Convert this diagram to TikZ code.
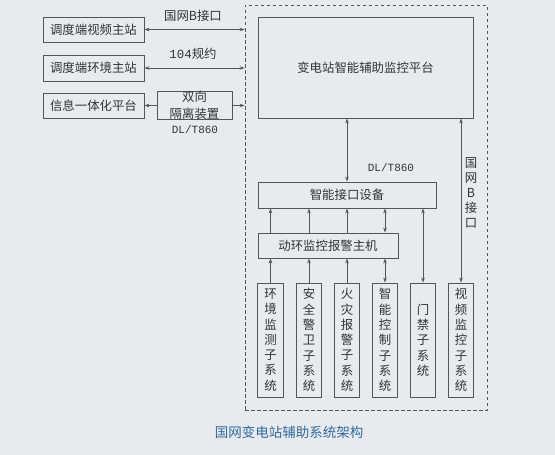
\documentclass[tikz,border=0pt]{standalone}
\usepackage{fontspec}
\setmainfont{Noto Sans CJK SC}
\newfontfamily\latf{Liberation Mono}
\usetikzlibrary{arrows.meta}
\definecolor{bg}{HTML}{E8EBEE}
\definecolor{ln}{HTML}{555555}
\definecolor{tx}{HTML}{333333}
\definecolor{capc}{HTML}{2F6A9C}
\begin{document}
\begin{tikzpicture}[x=1pt,y=-1pt,
  box/.style={draw=ln,line width=0.9pt,fill=bg,text=tx,inner sep=0pt,
     font=\fontsize{12.4}{15.3}\selectfont,align=center},
  vbox/.style={box,minimum width=25.5pt,minimum height=114pt},
  lbl/.style={text=tx,inner sep=0pt,font=\fontsize{12.4}{15}\selectfont,align=center},
  conn/.style={draw=ln,line width=0.8pt},
  tip/.style={-{Stealth[length=5pt,width=3.6pt]}},
  dtip/.style={{Stealth[length=5pt,width=3.6pt]}-{Stealth[length=5pt,width=3.6pt]}}]
\fill[bg] (0,0) rectangle (555,455);
\useasboundingbox (0,0) rectangle (555,455);
% frame
\node[draw=ln,line width=0.8pt,dash pattern=on 3.5pt off 2.5pt,minimum width=242pt,minimum height=405pt,inner sep=0pt] (frame) at (366,207.5) {};
% left boxes
\node[box,minimum width=101pt,minimum height=25pt] (v1) at (93.5,29.5) {调度端视频主站};
\node[box,minimum width=101pt,minimum height=26pt] (v2) at (93.5,68) {调度端环境主站};
\node[box,minimum width=101pt,minimum height=25pt] (v3) at (93.5,105.5) {信息一体化平台};
\node[box,minimum width=75pt,minimum height=25pt,font=\fontsize{12.4}{17}\selectfont] (iso) at (194.5,105.5) {双向\\隔离装置};
% main
\node[box,minimum width=215pt,minimum height=101pt] (main) at (365.5,67.5) {变电站智能辅助监控平台};
\node[box,minimum width=178pt,minimum height=26pt] (intf) at (347,195) {智能接口设备};
\node[box,minimum width=140pt,minimum height=25pt] (dh) at (328,245.5) {动环监控报警主机};
% bottom
\node[vbox] (s1) at (270.5,340) {环\\境\\监\\测\\子\\系\\统};
\node[vbox] (s2) at (309,340) {安\\全\\警\\卫\\子\\系\\统};
\node[vbox] (s3) at (347,340) {火\\灾\\报\\警\\子\\系\\统};
\node[vbox] (s4) at (385,340) {智\\能\\控\\制\\子\\系\\统};
\node[vbox] (s5) at (423,340) {门\\禁\\子\\系\\统};
\node[vbox] (s6) at (461,340) {视\\频\\监\\控\\子\\系\\统};
% labels
\node[lbl] (l1) at (193,16) {国网B接口};
\node[lbl] (l2) at (193,54) {{\latf 104}规约};
\node[lbl,font=\latf\fontsize{11}{13}\selectfont] (l3) at (195,130) {DL/T860};
\node[lbl,font=\latf\fontsize{11}{13}\selectfont] (l4) at (391,168) {DL/T860};
\node[lbl,font=\fontsize{12.4}{15}\selectfont] (l5) at (471,193) {国\\网\\B\\接\\口};
% connectors left
\draw[conn,dtip] (v1.east) -- (v1.east -| frame.west);
\draw[conn,dtip] (v2.east) -- (v2.east -| frame.west);
\draw[conn,tip] (iso.west) -- (v3.east);
\draw[conn,tip] (iso.east) -- (iso.east -| frame.west);
% vertical
\draw[conn,dtip] (intf.north) -- (intf.north |- main.south);
\draw[conn,dtip] (s6.north) -- (s6.north |- main.south);
\draw[conn,dtip] (s5.north) -- (s5.north |- intf.south);
\foreach \s in {s1,s2,s3}{
  \draw[conn,tip] (\s.north) -- (\s.north |- dh.south);
  \draw[conn,tip] (\s.north |- dh.north) -- (\s.north |- intf.south);
}
\draw[conn,dtip] (s4.north) -- (s4.north |- dh.south);
\draw[conn,dtip] (s4.north |- dh.north) -- (s4.north |- intf.south);
% caption
\node[text=capc,inner sep=0pt,font=\fontsize{13.5}{15}\selectfont] (cap) at (289,432) {国网变电站辅助系统架构};
\end{tikzpicture}
\end{document}
